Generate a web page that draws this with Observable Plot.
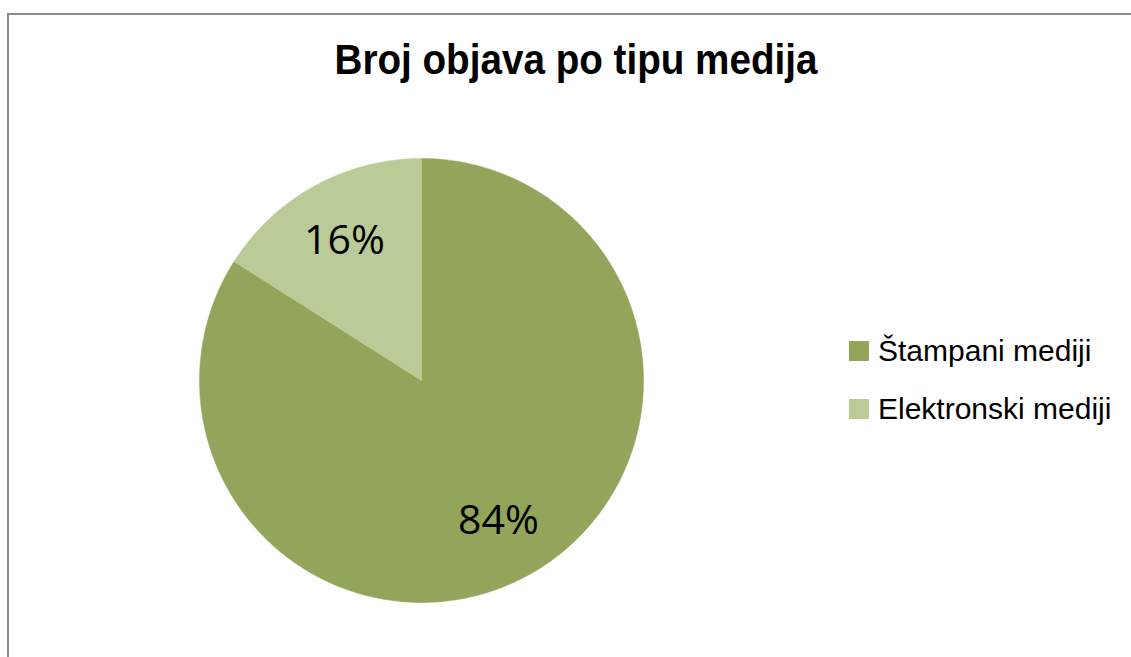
<!DOCTYPE html>
<html>
<head>
<meta charset="utf-8">
<script src="https://cdn.jsdelivr.net/npm/d3@7"></script>
<script src="https://cdn.jsdelivr.net/npm/@observablehq/plot@0.6"></script>
<style>
  html, body { margin: 0; padding: 0; background: #fff; }
  #wrap { position: relative; width: 1131px; height: 657px; overflow: hidden; }
  #border { position: absolute; left: 7px; top: 13px; width: 1200px; height: 700px;
            border-left: 2px solid #8a8a8a; border-top: 2px solid #8a8a8a; box-sizing: border-box; }
  #chart { position: absolute; left: 0; top: 0; }
  #legend { position: absolute; left: 849px; top: 337px; font-family: "Liberation Sans", Arial, sans-serif;
            font-size: 30px; color: #000; }
  .row { display: flex; align-items: center; height: 28px; margin-bottom: 30px; }
  .sw { width: 20px; height: 20px; margin-right: 9px; flex: none; }
</style>
</head>
<body>
<div id="wrap">
  <div id="border"></div>
  <div id="chart"></div>
  <div id="legend"></div>
</div>
<script>
const title = "Broj objava po tipu medija";
const categories = ["Štampani mediji", "Elektronski mediji"];
const values = [84, 16];
const colors = ["#93a55a", "#bacb98"];

const pie = d3.pie().sort(null).value(d => d.value)(categories.map((c, i) => ({category: c, value: values[i]})));
const total = d3.sum(values);

// polygon outline for each slice, in unit-circle coordinates (angle from 12 o'clock, clockwise)
const poly = [];
for (const s of pie) {
  const n = Math.max(2, Math.ceil((s.endAngle - s.startAngle) / (Math.PI / 360)));
  poly.push({category: s.data.category, x: 0, y: 0});
  for (let k = 0; k <= n; k++) {
    const a = s.startAngle + (s.endAngle - s.startAngle) * k / n;
    poly.push({category: s.data.category, x: Math.sin(a), y: Math.cos(a)});
  }
  poly.push({category: s.data.category, x: 0, y: 0});
}
const labels = pie.map(s => {
  const m = (s.startAngle + s.endAngle) / 2;
  return {label: Math.round(s.data.value / total * 100) + "%", x: 0.72 * Math.sin(m), y: 0.72 * Math.cos(m)};
});

const chart = Plot.plot({
  width: 1131, height: 657,
  margin: 0,
  x: {domain: [-1, 1], range: [199, 643], axis: null},
  y: {domain: [-1, 1], range: [602, 158], axis: null},
  color: {domain: categories, range: colors},
  style: {background: "transparent", overflow: "visible"},
  marks: [
    Plot.line(poly, {x: "x", y: "y", z: "category", fill: "category", stroke: "category", strokeWidth: 0.5, curve: "linear"}),
    Plot.text(labels, {x: "x", y: "y", text: "label", fontSize: 41, fill: "#000",
      fontFamily: "'Open Sans', 'Noto Sans', sans-serif", textAnchor: "middle", lineAnchor: "middle"}),
    Plot.text([title], {frameAnchor: "top", x: null, y: null, text: d => d, dx: 10, dy: 43,
      fontSize: 43, fontWeight: "bold", fill: "#000", fontFamily: "'Liberation Sans', Arial, sans-serif",
      textAnchor: "middle", lineAnchor: "top"})
  ]
});
d3.select(chart).selectAll("text").filter(function() { return this.textContent === title; })
  .attr("textLength", 483).attr("lengthAdjust", "spacingAndGlyphs");
document.getElementById("chart").appendChild(chart);

const color = chart.scale("color");
const legend = d3.select("#legend");
categories.forEach(c => {
  const row = legend.append("div").attr("class", "row");
  row.append("div").attr("class", "sw").style("background", color.apply(c));
  row.append("span").text(c);
});
</script>
</body>
</html>
